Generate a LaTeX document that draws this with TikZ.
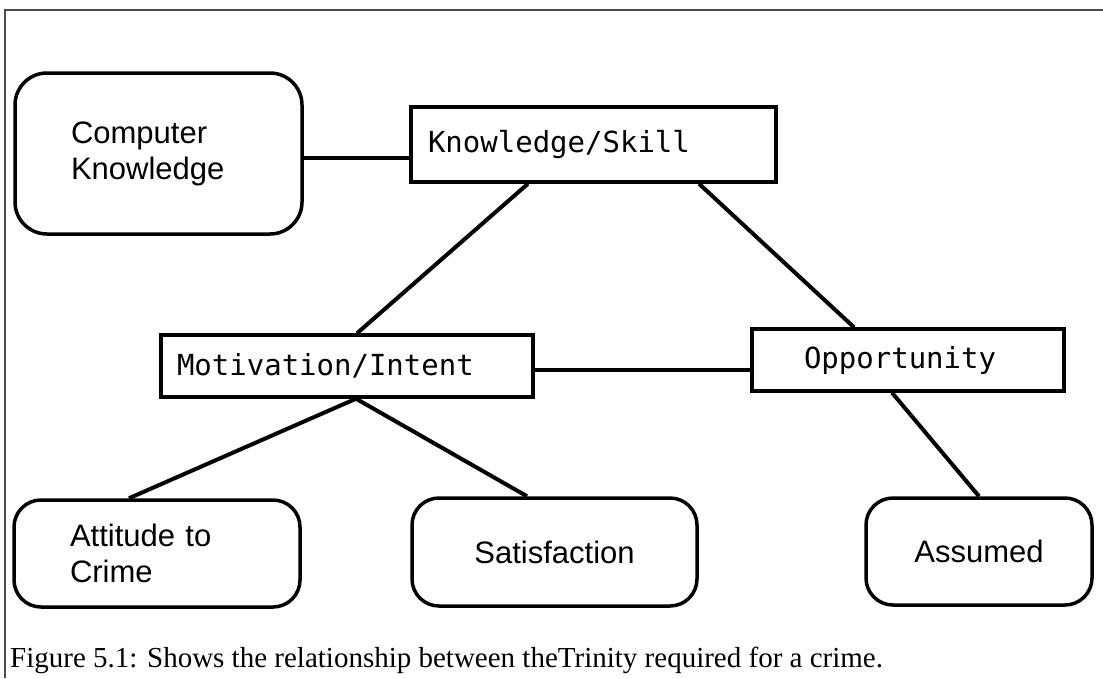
\documentclass[tikz,border=0pt]{standalone}
\usepackage{fontspec}
\setmainfont{Liberation Serif}
\newfontfamily\boxsans{Liberation Sans}
\newfontfamily\boxmono{DejaVu Sans Mono}
\begin{document}
\begin{tikzpicture}[x=1pt,y=-1pt,
  roundbox/.style={draw, line width=3.5pt, rounded corners=27pt, inner sep=0pt,
    font=\boxsans\fontsize{31}{36}\selectfont},
  rectbox/.style={draw, line width=3.4pt, inner sep=0pt, align=left,
    font=\boxmono\fontsize{29}{32}\selectfont},
  link/.style={line width=4pt},
  flatlink/.style={line width=3.2pt},
]
\useasboundingbox (0,0) rectangle (1103,678);
\fill[white] (0,0) rectangle (1103,678);
% page frame
\draw[line width=1.5pt, black!70] (5,678) -- (5,10) -- (1103,10);

% boxes
\node[roundbox, rounded corners=32pt, minimum width=287pt, minimum height=161pt,
  text width=175pt, align=left]
  (ck) at (158.5,153.5) {Computer\\Knowledge};
\node[rectbox, minimum width=365pt, minimum height=75pt, text width=331pt]
  (ks) at (593.5,144.5) {Knowledge/Skill};
\node[rectbox, minimum width=372pt, minimum height=62pt, text width=340pt]
  (mi) at (347,366) {Motivation/Intent};
\node[rectbox, minimum width=312pt, minimum height=62pt, text width=208pt]
  (opp) at (908,360) {Opportunity};
\node[roundbox, minimum width=286pt, minimum height=107pt, text width=174pt, align=left]
  (att) at (157,553.5) {Attitude to\\Crime};
\node[roundbox, minimum width=285pt, minimum height=108pt]
  (sat) at (554.5,552) {Satisfaction};
\node[roundbox, minimum width=226pt, minimum height=107pt]
  (ass) at (979,551.5) {Assumed};

% connectors
\coordinate (ckj) at ([yshift=-13.5pt]ks.west);
\draw[flatlink] (ck.east |- ckj) -- (ckj);
\draw[link] ([xshift=-65.5pt]ks.south) -- ([xshift=10pt]mi.north);
\draw[link] ([xshift=105.5pt]ks.south) -- ([xshift=-54pt]opp.north);
\coordinate (moj) at ([yshift=-4pt]mi.east);
\draw[flatlink] (moj) -- (moj -| opp.west);
\draw[link] ([xshift=9pt]mi.south) -- ([xshift=-28pt]att.north);
\draw[link] ([xshift=9pt]mi.south) -- ([xshift=-27.5pt]sat.north);
\draw[link] ([xshift=-16pt]opp.south) -- (ass.north);

% caption
\node[anchor=base west, inner sep=0pt, font=\fontsize{29}{34}\selectfont]
  (cap) at (10,667) {Figure 5.1: Shows the relationship between theTrinity required for a crime.};
\end{tikzpicture}
\end{document}
